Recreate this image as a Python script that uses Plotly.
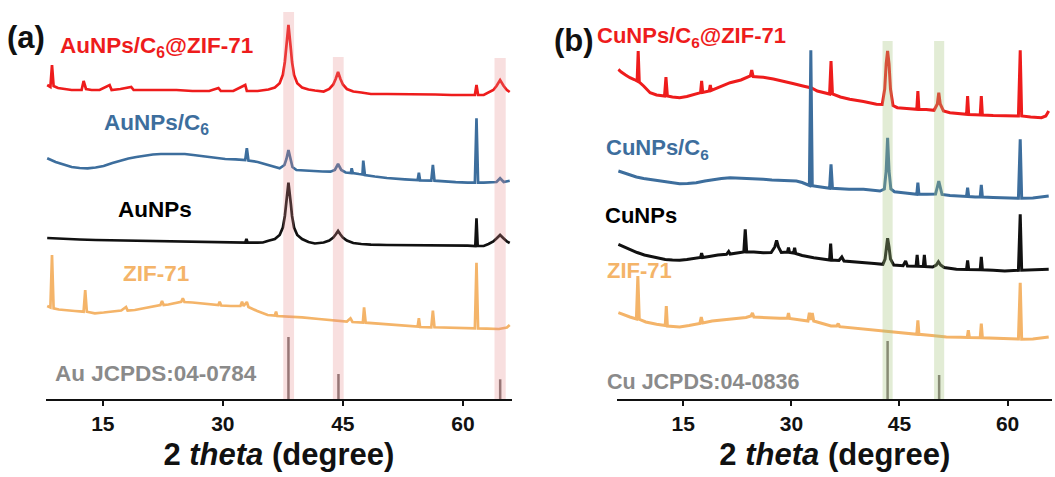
import plotly.graph_objects as go

# ---------------- Panel (a): Au samples ----------------
a_red_x = [8.05,8.45,8.65,8.85,9.4,10.1,11.1,12.35,12.6,12.9,13.6,14.6,15.85,16.1,17.2,18.55,18.85,20.2,22.2,24.2,26.2,28.3,29.45,29.75,31.3,32.8,33.0,34.35,35.7,36.5,37.1,37.5,37.75,37.9,38.2,38.5,38.65,38.9,39.3,39.9,40.7,41.5,42.6,43.3,43.8,44.1,44.4,44.7,45.0,45.5,46.3,47.3,48.5,50.5,52.5,54.55,56.55,58.6,60.6,61.5,61.7,61.9,62.6,63.2,63.8,64.2,64.65,65.1,65.5,65.85]
a_red_y = [314,312,334,313,311,310,309,309,318,310,309,309,314,309,310,312,309,309,309,309,308,308,311,308,308,314,308,308,309.5,311.5,315.7,324.2,337,350,374,350,337,324,315.7,311.5,309.5,308.5,307.5,310,314.5,320,327,320,314.5,310,307.5,306.5,305,305,305,304.5,304.5,304,304,304,314,304,304,306.5,309,313,319,313,309,307]

a_blue_x = [8.05,9.1,10.1,11.1,12.1,13.1,14.1,15.1,16.2,17.2,18.2,19.2,20.2,21.25,22.25,23.25,24.25,25.25,26.3,27.3,28.3,29.3,30.3,31.6,32.8,33.0,33.2,34.35,35.35,36.35,37.1,37.7,37.95,38.2,38.45,38.7,39.2,40.0,41.45,42.45,43.45,44.0,44.4,44.8,45.35,46.0,46.1,46.25,47.0,47.45,47.55,47.75,49.0,50.5,52.75,54.35,54.5,54.65,56.05,56.25,56.45,57.6,59.1,60.6,61.5,61.7,61.9,62.6,63.6,64.2,64.65,65.1,65.85]
a_blue_y = [240.7,237,234.5,232,231,230.7,231.5,233,236,238.5,240.5,242,243.5,244.5,245,245,245.3,245,244,243,242,241,240,239.7,239,250.7,238.5,237,234.5,232,230.7,234,240,249,240,232,229,228.5,228,227.5,227.3,229,235,229,226.5,226,230.7,226,225,224.5,238.3,224,222.5,221,219.7,219,226.3,218.5,218.3,234,218.3,217.5,216.8,216.3,216.3,280.7,216.3,216.3,216.5,217,220.7,217,218.3]

a_black_x = [8.05,9.1,10.1,12.1,14.1,16.2,18.2,20.2,22.2,24.2,26.3,28.3,30.3,32.8,32.95,33.1,34.35,35.0,35.7,36.5,37.1,37.5,37.75,37.9,38.2,38.5,38.65,38.9,39.3,39.9,40.7,41.5,42.6,43.3,43.8,44.1,44.4,44.7,45.0,45.5,46.3,47.3,48.5,50.5,52.5,54.5,56.5,58.6,60.6,61.55,61.7,61.85,62.6,63.2,63.8,64.2,64.65,65.1,65.5,65.85]
a_black_y = [161,160.5,160,159.5,159,158.7,158.5,158,157.7,157.3,157,156.7,156.5,156.3,160,156.3,156.3,156.5,158.3,160,164,171.5,183,195,216.3,195,183,171.5,164,160,157,155.5,156.5,158.5,161.5,164.5,168,164.5,161.5,158.5,156,155,154.3,154,154,154,153.7,153.5,153.3,153,180.7,153,153,155,157.5,160.5,164,160.5,157.5,156]

a_orange_x = [8.05,8.45,8.65,8.85,9.5,10.5,11.5,12.6,12.8,13.0,14.0,15.1,16.2,17.3,17.9,18.1,19.0,20.2,21.2,22.2,22.4,22.6,23.2,24.2,24.8,25.0,25.2,26.2,27.3,28.3,29.45,29.6,29.8,31.0,32.2,32.4,32.6,33.0,33.2,34.3,35.6,36.5,36.65,36.8,38.0,39.9,42.0,44.25,45.5,45.95,46.2,47.5,47.65,47.85,50.0,52.7,54.35,54.5,54.65,56.05,56.25,56.45,58.5,60.6,61.5,61.7,61.9,63.0,64.5,65.5,65.85]
a_orange_y = [93,91.5,144,90.7,89.5,88.5,88,87.3,109,87.3,85.7,86.5,87.5,88.5,92,88.5,89,91,92.5,94,98,94,94.5,96,97.3,100.7,97,96.5,95.5,95,94,97.3,93.5,93,93,97.3,93,97,92,88,84,83.5,87.3,83,82.5,81.7,80,78.3,77.5,80.7,77,76.5,91.7,76.3,75,73,72.5,80.7,72,71.7,88.3,71.7,71,70.7,70.7,136.3,70.5,70.3,70,71.5,74]

au_ref_pos = [38.2, 44.45, 64.66]
au_ref_int = [62, 25, 19.7]
au_bands = [(37.55, 38.9), (43.75, 45.1), (63.95, 65.35)]
au_band_tops = [387, 342, 341]

# ---------------- Panel (b): Cu samples ----------------
b_red_x = [6.0,6.4,7.0,7.6,8.2,8.6,8.75,8.9,9.5,10.4,11.3,12.4,12.6,12.8,13.5,14.5,15.5,16.5,17.4,17.55,17.7,18.6,18.75,18.9,20.0,21.5,23.0,24.3,24.5,24.7,25.5,26.1,27.5,28.9,30.2,31.6,32.8,33.6,34.4,35.3,35.5,35.7,36.8,38.1,40.0,41.8,42.6,42.95,43.15,43.35,43.55,43.75,44.1,44.7,46.0,47.4,47.55,47.7,48.7,49.8,50.25,50.45,50.65,51.1,52.0,53.5,54.3,54.45,54.6,55.5,56.2,56.35,56.5,58.0,59.6,61.5,61.75,61.95,63.2,64.7,65.3,65.7]
b_red_y = [329.7,327,324,321.3,319.5,318,348,317,313,306.3,304,303,322,303,302,301.3,302.5,304.5,306.3,318,306.5,308,314,308.5,312,316.3,319,323,329,322.5,322,321.7,320,318,315.5,313,311,308,306.3,305,338,305,302,299.7,297.5,294.7,294.5,310,335,348,335,310,293.5,291.3,290.5,289.7,308,289.7,289.5,288.7,295,306.3,295,288,286.3,285,284.7,303,284.5,284.3,284,303,284,283.5,283,283,348.7,283,282,281.3,283,288]

b_blue_x = [6.0,6.8,7.6,8.5,9.5,10.5,12.2,13.3,14.5,15.6,16.8,18.0,19.2,20.3,21.5,22.7,23.9,25.0,26.1,27.3,28.5,29.5,30.7,31.5,32.1,32.5,32.7,32.9,33.6,34.4,35.3,35.5,35.7,36.8,38.0,40.0,41.2,42.3,42.9,43.15,43.35,43.55,43.8,44.3,45.5,46.5,47.4,47.55,47.7,48.8,50.0,50.25,50.45,50.65,50.9,52.0,53.0,54.3,54.45,54.6,55.5,56.2,56.35,56.5,58.0,59.6,61.5,61.75,61.95,63.5,64.8,65.7]
b_blue_y = [228,226,224,222,220.5,219.5,218,216.5,215.3,215.5,216.3,218,219.5,220.5,221.3,221,220.5,220,219.7,219,218.8,218.3,218,216.5,214.7,213.5,348.7,213.3,212.5,211.5,210.8,234.7,210.7,210.2,209.7,209.7,209,208,210,228,261.3,228,210,207.3,206.3,205.5,204.7,216.3,204.7,204.7,205,212,218,212,204.5,203.5,203,202.5,211.3,202.5,202,202,214,202,201.5,201.3,200.7,259.7,200.7,201,202,203]

b_black_x = [6.0,6.8,7.6,8.6,9.6,10.5,11.3,12.5,13.5,14.5,15.5,16.5,17.4,17.55,17.7,18.6,19.8,21.0,21.3,21.5,22.5,23.4,23.6,23.8,24.8,26.1,27.2,27.7,27.95,28.2,28.6,29.45,29.6,29.75,30.3,30.45,30.6,31.5,33.1,34.3,35.3,35.45,35.6,36.6,37.0,37.3,38.5,40.0,41.5,42.7,43.0,43.2,43.35,43.55,43.75,44.2,45.5,45.85,46.1,47.3,47.45,47.6,48.3,48.45,48.6,49.6,50.1,50.4,50.7,51.2,52.9,54.3,54.45,54.6,56.2,56.35,56.5,58.0,59.6,61.5,61.75,61.95,63.5,64.8,65.7]
b_black_y = [154.7,152,149.7,146.5,144,142.5,141.3,139.5,139,138.7,139.5,140.5,141.5,146,141.5,142.5,144,144.7,147.5,145,145.7,147,169.7,147,147,146.3,146.5,152,158.7,152,146.5,147,151.3,146.5,146,151.3,145.5,143.5,141.3,140,139,155.3,139,138.5,142,138,137.5,136.3,135.5,134.7,140,152,160.7,152,140,134,133.3,138,133,132.7,144,132.7,132.5,144,132.5,132,134,137.3,134,131.5,129.7,129.5,138.7,129.5,129.3,142,129.3,128.7,128,128.7,184.7,128.7,129,129.3,129.7]

b_orange_x = [6.0,6.8,7.6,8.5,8.7,8.9,9.8,11.3,12.5,12.65,12.8,13.6,14.5,15.8,17.3,17.5,17.7,19.0,20.3,21.5,22.5,23.7,24.4,24.6,24.8,25.8,27.0,28.4,29.45,29.6,29.75,31.0,32.3,32.5,32.7,32.9,33.1,34.3,35.5,36.3,36.5,36.7,38.5,40.0,42.0,44.6,46.0,47.4,47.55,47.7,49.5,51.5,53.5,54.4,54.55,54.7,56.2,56.35,56.5,58.0,59.6,61.5,61.75,61.95,63.5,64.8,65.7]
b_orange_y = [86.3,84,82,80,123,79.7,77,74.7,73.5,93,73,72.5,72,73.5,75.5,82,76,78,79,79.7,80.5,81.5,83,86,82,81.5,81,80.7,81,86,80.5,79.5,78,86.3,79,86,78,75.5,73,73,75.5,72.3,71,69.7,68.5,66.3,65.5,64.7,78.7,64.7,63.5,62,61.7,61.5,68.7,61.5,61.3,75.3,61.3,60.7,60.7,60,116.3,59.7,60,61,62]

cu_ref_pos = [43.35, 50.5]
cu_ref_int = [58, 24]
cu_bands = [(42.65, 44.05), (49.8, 51.2)]
cu_band_tops = [358, 358]

# ---------------- styling ----------------
RED = "#ee1c1c"
BLUE = "#3d6e9d"
BLACK = "#111111"
ORANGE = "#f4b469"
GRAY = "#8a8a8a"
STICK = "#7a7070"
FONT = "Arial, Liberation Sans, sans-serif"

fig = go.Figure()

def add_line(x, y, color, xa, ya, width=2.7):
    fig.add_trace(go.Scatter(x=x, y=y, mode="lines", line=dict(color=color, width=width),
                             xaxis=xa, yaxis=ya, showlegend=False, hoverinfo="skip"))

def sticks(pos, inten):
    xs, ys = [], []
    for p, h in zip(pos, inten):
        xs += [p, p, None]
        ys += [0, h, None]
    return xs, ys

add_line(a_red_x, a_red_y, RED, "x", "y")
add_line(a_blue_x, a_blue_y, BLUE, "x", "y")
add_line(a_black_x, a_black_y, BLACK, "x", "y")
add_line(a_orange_x, a_orange_y, ORANGE, "x", "y")
sx, sy = sticks(au_ref_pos, au_ref_int)
add_line(sx, sy, STICK, "x", "y", width=2.5)

add_line(b_red_x, b_red_y, RED, "x2", "y2", width=3)
add_line(b_blue_x, b_blue_y, BLUE, "x2", "y2", width=3)
add_line(b_black_x, b_black_y, BLACK, "x2", "y2", width=3)
add_line(b_orange_x, b_orange_y, ORANGE, "x2", "y2", width=3)
sx, sy = sticks(cu_ref_pos, cu_ref_int)
add_line(sx, sy, STICK, "x2", "y2", width=2.5)

shapes = []
for (x0, x1), top in zip(au_bands, au_band_tops):
    shapes.append(dict(type="rect", xref="x", yref="y", x0=x0, x1=x1, y0=0, y1=top,
                       fillcolor="rgba(228,136,136,0.27)", line=dict(width=0), layer="above"))
for (x0, x1), top in zip(cu_bands, cu_band_tops):
    shapes.append(dict(type="rect", xref="x2", yref="y2", x0=x0, x1=x1, y0=0, y1=top,
                       fillcolor="rgba(165,195,125,0.32)", line=dict(width=0), layer="above"))

H = 399.0
def ann(text, xpx, ypx, color, size):
    return dict(text="<b>" + text + "</b>", xref="paper", yref="paper",
                x=xpx / 1055.0, y=(H - ypx) / H, xanchor="left", yanchor="middle",
                showarrow=False, font=dict(family=FONT, size=size, color=color))

annotations = [
    ann("(a)", 5, 37, "#111111", 31),
    ann("AuNPs/C<sub>6</sub>@ZIF-71", 58, 47, RED, 22.5),
    ann("AuNPs/C<sub>6</sub>", 102, 124, BLUE, 22.5),
    ann("AuNPs", 116, 209, "#000000", 22.5),
    ann("ZIF-71", 121, 273, ORANGE, 22.5),
    ann("Au JCPDS:04-0784", 53, 373, GRAY, 22.5),
    ann("(b)", 552, 40, "#111111", 31),
    ann("CuNPs/C<sub>6</sub>@ZIF-71", 595, 37, RED, 22),
    ann("CuNPs/C<sub>6</sub>", 604, 149, BLUE, 22),
    ann("CuNPs", 603, 215, "#000000", 22),
    ann("ZIF-71", 605, 270, ORANGE, 22),
    ann("Cu JCPDS:04-0836", 605, 382, GRAY, 21.5),
]

xcommon = dict(showline=True, linecolor="#111111", linewidth=2, ticks="outside", ticklen=5,
               tickwidth=2, tickcolor="#111111", tickvals=[15, 30, 45, 60],
               tickfont=dict(family=FONT, size=21, color="#111111", weight="bold"),
               showgrid=False, zeroline=False, mirror=False,
               title=dict(text="<b>2 <i>theta</i> (degree)</b>", standoff=9,
                          font=dict(family=FONT, size=31, color="#111111")))

fig.update_layout(
    width=1055, height=477,
    margin=dict(l=0, r=0, t=0, b=78, autoexpand=False),
    paper_bgcolor="white", plot_bgcolor="white",
    xaxis=dict(domain=[46/1055, 511.7/1055], range=[7.9, 66.1], anchor="y", **xcommon),
    xaxis2=dict(domain=[617.3/1055, 1052.3/1055], range=[5.85, 66.2], anchor="y2", **xcommon),
    yaxis=dict(domain=[0, 1], range=[0, 399], visible=False),
    yaxis2=dict(domain=[0, 1], range=[0, 399], visible=False, anchor="x2"),
    shapes=shapes, annotations=annotations,
)

fig.write_html("out.html", config={"displayModeBar": False},
               post_script="document.body.style.margin='0';document.body.style.overflow='hidden';")
